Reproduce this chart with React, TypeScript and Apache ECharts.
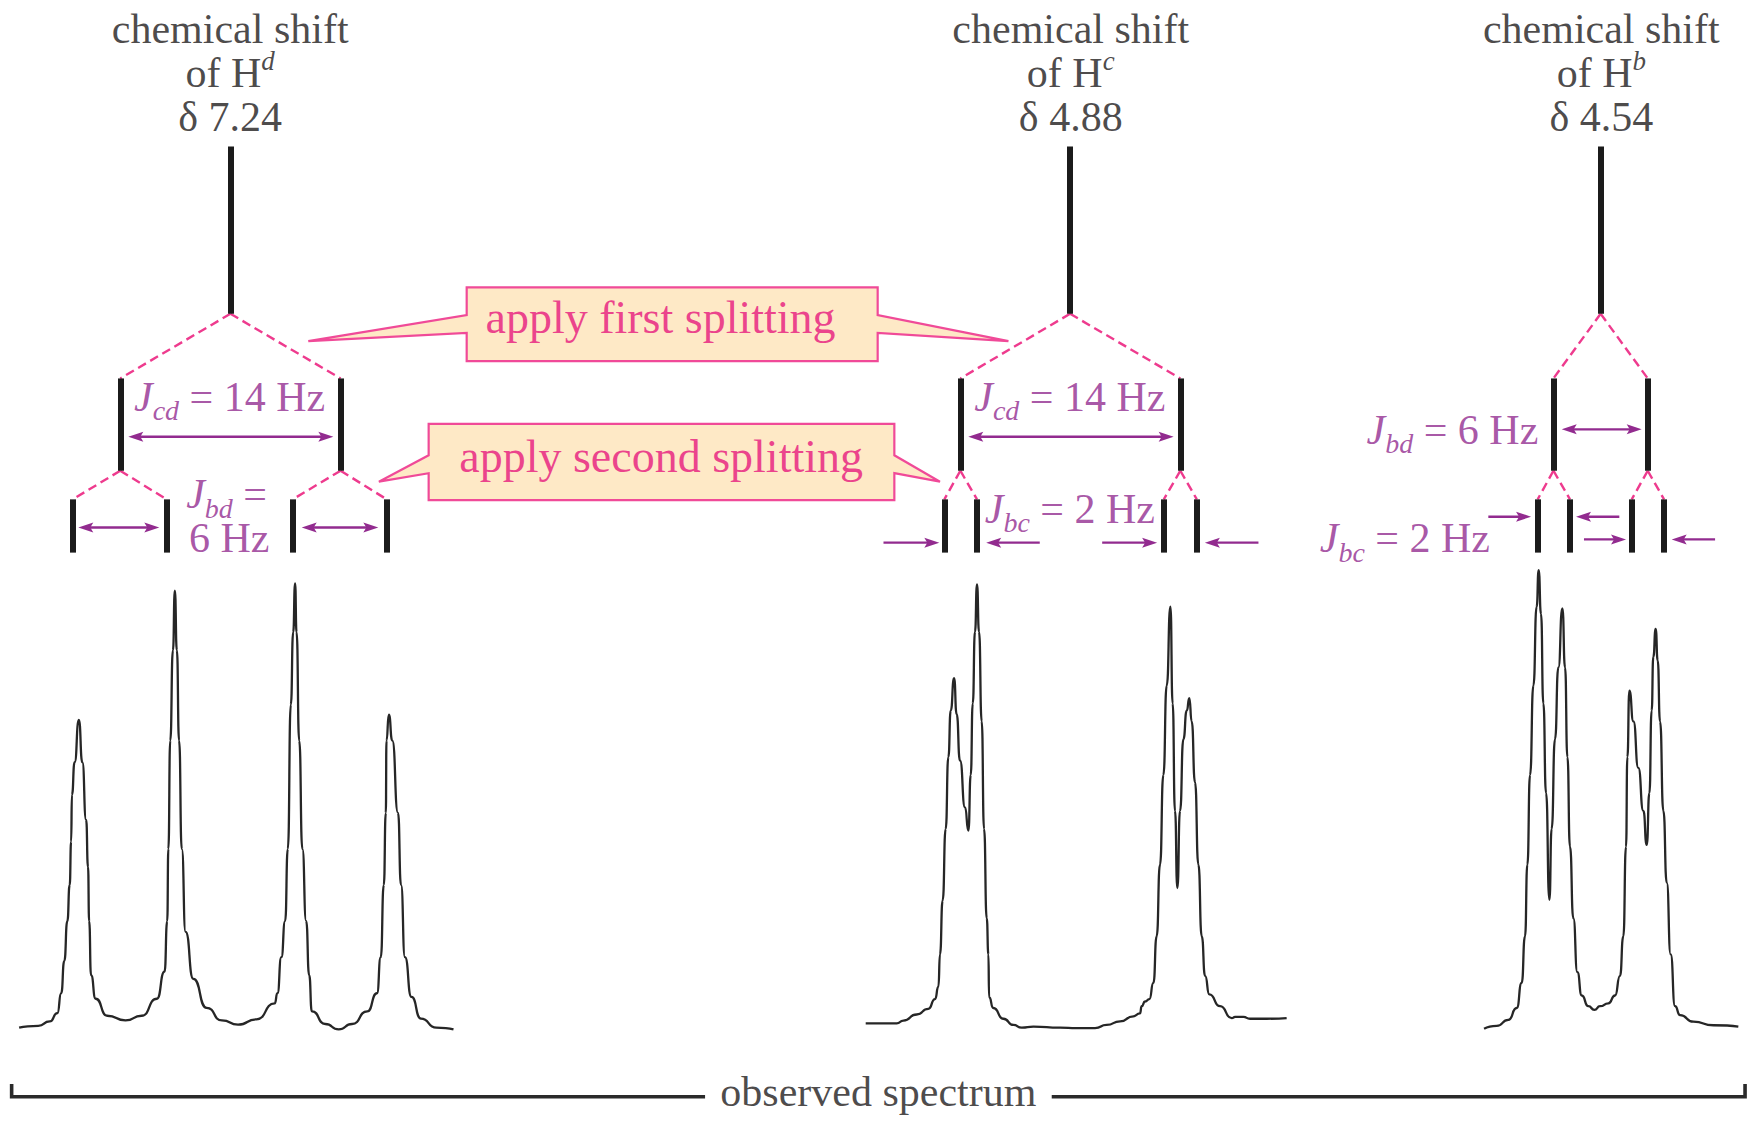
import React, { useEffect, useRef } from "react";
import * as echarts from "echarts";

// Diagram space: the reference drawing measured in 1568 x 1003 units (x right, y down).
const SPACE_W = 1568;
const SPACE_H = 1003;

// ---------- data ----------
const protons = ["d", "c", "b"];
const shifts = ["7.24", "4.88", "4.54"];

// stick positions of each splitting tree (x)
const singletX = [206.0, 956.6, 1430.9];
const doubletX = [
  [107.5, 304.5],
  [858.5, 1055.2],
  [1388.7, 1473.0],
];
const quartetX = [
  [65.0, 149.0, 261.6, 345.7],
  [844.2, 873.4, 1040.4, 1069.9],
  [1374.6, 1403.5, 1458.7, 1487.6],
];
// tree levels (y): [top, bottom]
const singletLevel = [131, 280.5];
const doubletLevel = [338.3, 420.8];
const quartetLevel = [446.4, 494];

// observed spectrum traces [x, y]
const traceHd = [
  [17.1, 918.6], [34.2, 917.0], [44.5, 913.1], [51.3, 905.7], [54.7, 887.9], [57.5, 858.9],
  [60.2, 823.4], [62.3, 791.1], [63.6, 752.4], [64.3, 710.4], [66.7, 681.4], [70.5, 643.6],
  [73.6, 681.4], [77.0, 733.0], [78.7, 775.0], [79.7, 823.4], [81.4, 871.8], [85.5, 892.8],
  [95.8, 908.0], [112.2, 912.2], [126.6, 908.0], [140.3, 892.8], [147.1, 868.6], [149.5, 823.4],
  [150.5, 758.8], [152.2, 662.0], [154.6, 581.3], [156.3, 528.0], [158.1, 581.3], [160.1, 662.0],
  [162.5, 758.8], [165.9, 833.1], [172.8, 875.0], [184.7, 900.9], [198.4, 912.2], [212.8, 916.0],
  [229.2, 911.2], [245.6, 897.0], [248.0, 887.9], [251.5, 855.7], [254.9, 823.4], [257.3, 758.8],
  [260.0, 629.7], [262.1, 565.2], [263.8, 521.6], [265.1, 565.2], [267.5, 662.0], [270.3, 758.8],
  [273.7, 823.4], [276.4, 871.8], [278.8, 904.1], [290.8, 915.4], [302.8, 920.2], [314.7, 915.4],
  [328.4, 904.1], [337.0, 887.9], [340.4, 855.7], [343.1, 791.1], [344.9, 726.6], [345.5, 662.0],
  [347.6, 638.8], [350.7, 662.0], [355.8, 726.6], [358.5, 791.1], [362.0, 855.7], [367.8, 891.2],
  [376.3, 910.5], [390.0, 918.6], [405.4, 920.2],
];
const traceHc = [
  [773.9, 914.9], [801.6, 914.9], [807.6, 912.3], [819.5, 906.9], [829.9, 901.8], [835.9, 893.1],
  [838.9, 881.9], [840.3, 853.1], [842.7, 805.0], [845.4, 740.9], [847.8, 676.8], [849.9, 635.2],
  [852.9, 606.3], [855.2, 638.4], [858.2, 680.0], [862.7, 721.7], [865.7, 742.5], [867.8, 692.8],
  [869.6, 628.8], [871.6, 564.7], [873.4, 522.4], [875.2, 564.7], [877.6, 644.8], [879.7, 740.9],
  [882.1, 821.0], [883.6, 853.1], [884.2, 891.5], [888.0, 901.1], [897.0, 910.7], [905.9, 916.2],
  [913.4, 918.7], [923.8, 917.8], [947.6, 918.7], [962.5, 919.1], [978.9, 919.1], [989.3, 916.2],
  [1001.3, 913.0], [1013.2, 908.5], [1019.1, 905.9], [1020.6, 899.5], [1023.6, 895.3], [1027.5, 893.1],
  [1031.1, 878.7], [1034.0, 837.0], [1037.0, 772.9], [1040.0, 692.8], [1043.0, 612.7], [1046.3, 542.3],
  [1048.3, 628.8], [1050.4, 724.9], [1052.5, 793.8], [1054.9, 724.9], [1057.9, 660.8], [1060.9, 635.2],
  [1063.2, 624.0], [1065.3, 644.8], [1068.3, 699.3], [1071.3, 772.9], [1074.3, 837.0], [1077.3, 872.3],
  [1081.1, 888.9], [1090.7, 899.5], [1101.1, 910.1], [1104.1, 909.1], [1111.5, 909.1], [1117.5, 910.7],
  [1132.4, 910.7], [1150.2, 910.1],
];
const traceHb = [
  [1326.7, 919.7], [1338.0, 917.1], [1348.4, 911.7], [1355.9, 901.1], [1360.3, 878.7], [1363.3, 837.0],
  [1365.4, 772.9], [1367.8, 692.8], [1370.8, 612.7], [1373.7, 542.3], [1375.5, 509.6], [1377.6, 548.7],
  [1379.7, 628.8], [1382.1, 708.9], [1385.1, 804.3], [1387.1, 740.9], [1390.1, 660.8], [1393.1, 596.7],
  [1396.7, 543.9], [1399.1, 596.7], [1401.2, 676.8], [1403.5, 756.9], [1406.5, 821.0], [1410.1, 869.1],
  [1414.0, 889.9], [1419.9, 899.5], [1425.3, 902.7], [1430.4, 899.5], [1437.8, 896.9], [1443.8, 889.9],
  [1448.2, 872.3], [1451.2, 837.0], [1453.6, 756.9], [1454.8, 676.8], [1456.6, 617.5], [1460.2, 644.8],
  [1464.6, 686.4], [1469.1, 724.9], [1472.1, 755.3], [1474.5, 708.9], [1476.5, 635.2], [1478.0, 587.1],
  [1480.1, 562.1], [1481.9, 590.3], [1484.0, 644.8], [1487.0, 724.9], [1490.0, 789.0], [1493.5, 853.1],
  [1497.4, 899.5], [1501.9, 907.5], [1513.8, 913.3], [1531.7, 916.5], [1554.0, 917.8],
];

// coupling arrows: [x1, y1, x2, y2, heads]  heads 1 = head at (x2,y2), 2 = both ends
const couplingArrows = [
  [114.7, 390.4, 298.0, 390.4, 2],
  [70.0, 471.5, 142.4, 471.5, 2],
  [269.7, 471.5, 338.2, 471.5, 2],
  [865.6, 390.4, 1049.2, 390.4, 2],
  [789.8, 485.1, 839.7, 485.1, 1],
  [929.5, 485.1, 881.6, 485.1, 1],
  [985.3, 485.1, 1034.4, 485.1, 1],
  [1125.0, 485.1, 1077.1, 485.1, 1],
  [1396.1, 383.8, 1467.6, 383.8, 2],
  [1330.5, 461.9, 1368.7, 461.9, 1],
  [1447.6, 461.9, 1408.9, 461.9, 1],
  [1416.0, 482.2, 1453.6, 482.2, 1],
  [1533.2, 482.2, 1494.4, 482.2, 1],
];

// callouts: [left, top, right, bottom, wedgeTop, wedgeBottom, leftTipX, leftTipY, rightTipX, rightTipY]
const callouts = [
  [417.2, 256.9, 784.6, 322.8, 281.6, 297.7, 275.6, 305.0, 901.5, 305.0],
  [383.2, 379.0, 799.5, 447.0, 407.0, 423.0, 338.7, 430.6, 840.3, 430.6],
];
const calloutTexts = ["apply first splitting", "apply second splitting"];

// coupling-constant labels
const jCentered = [
  "{j|J}{s|cd}{t| = 14 Hz}",
  "{j|J}{s|cd}{t| = 14 Hz}",
  "{j|J}{s|bd}{t| =}",
  "{t|6 Hz}",
  "{j|J}{s|bc}{t| = 2 Hz}",
];
const jRight = ["{j|J}{s|bd}{t| = 6 Hz}", "{j|J}{s|bc}{t| = 2 Hz}"];
const bottomLabel = "observed spectrum";

// bracket under the spectrum
const bracketLeft = [[10.4, 969], [10.4, 980.4], [630.3, 980.4]];
const bracketRight = [[940.2, 980.4], [1560, 980.4], [1560, 969]];

// ---------- layout (label anchors) ----------
const headerX = [205.8, 957.2, 1431.5];
const headerY = [25.5, 65.5, 104.5];
const calloutTextPos = [[590.5, 283.5], [591.0, 408.0]];
const jCenteredPos = [[205.3, 354.6], [956.4, 354.6], [202.6, 442.0], [204.9, 481.0], [956.4, 455.0]];
const jRightPos = [[1375.2, 384.0], [1332.0, 481.0]];
const bottomLabelPos = [785.2, 976.0];

// ---------- styles ----------
const FONT = "'Liberation Serif', 'Times New Roman', Times, serif";
const BLACK = "#1d1a1b";
const STICK = "#1b1b1b";
const PINK = "#ee3b8e";
const BORDER = "#f04a98";
const PEACH = "#fee9c6";
const MAGENTA = "#e6177d";
const PURPLE = "#922b8f";

function buildSticks() {
  const out: any[] = [];
  singletX.forEach((x) => out.push({ coords: [[x, singletLevel[0]], [x, singletLevel[1]]] }));
  doubletX.forEach((g) => g.forEach((x) => out.push({ coords: [[x, doubletLevel[0]], [x, doubletLevel[1]]] })));
  quartetX.forEach((g) => g.forEach((x) => out.push({ coords: [[x, quartetLevel[0]], [x, quartetLevel[1]]] })));
  return out;
}

function buildDashes() {
  const out: any[] = [];
  singletX.forEach((sx, i) => {
    doubletX[i].forEach((dx, j) => {
      out.push({ coords: [[sx, singletLevel[1]], [dx, doubletLevel[0]]] });
      const q = quartetX[i].slice(j * 2, j * 2 + 2);
      q.forEach((qx) => out.push({ coords: [[dx, doubletLevel[1]], [qx, quartetLevel[0]]] }));
    });
  });
  return out;
}

function arrowRender(params: any, api: any) {
  const p1 = api.coord([api.value(0), api.value(1)]);
  const p2 = api.coord([api.value(2), api.value(3)]);
  const both = api.value(4) === 2;
  const dx = p2[0] - p1[0];
  const dy = p2[1] - p1[1];
  const len = Math.hypot(dx, dy) || 1;
  const ux = dx / len;
  const uy = dy / len;
  const L = 15;
  const Wd = 5;
  const head = (tip: number[], vx: number, vy: number) => {
    const bx = tip[0] - vx * L;
    const by = tip[1] - vy * L;
    const nx = -vy;
    const ny = vx;
    const cx = tip[0] - vx * L * 0.8;
    const cy = tip[1] - vy * L * 0.8;
    return {
      type: "polygon",
      shape: { points: [tip, [bx + nx * Wd, by + ny * Wd], [cx, cy], [bx - nx * Wd, by - ny * Wd]] },
      style: { fill: PURPLE },
    };
  };
  const s = both ? [p1[0] + ux * L * 0.7, p1[1] + uy * L * 0.7] : p1;
  const e = [p2[0] - ux * L * 0.7, p2[1] - uy * L * 0.7];
  const children: any[] = [
    { type: "line", shape: { x1: s[0], y1: s[1], x2: e[0], y2: e[1] }, style: { stroke: PURPLE, lineWidth: 2.4 } },
    head(p2, ux, uy),
  ];
  if (both) children.push(head(p1, -ux, -uy));
  return { type: "group", children };
}

function calloutRender(params: any, api: any) {
  const v = (i: number) => api.value(i);
  const P = (x: number, y: number) => api.coord([x, y]);
  const l = v(0), t = v(1), r = v(2), b = v(3), wt = v(4), wb = v(5);
  const pts = [
    P(l, t), P(r, t), P(r, wt), P(v(8), v(9)), P(r, wb), P(r, b),
    P(l, b), P(l, wb), P(v(6), v(7)), P(l, wt),
  ];
  return {
    type: "polygon",
    shape: { points: pts },
    style: { fill: PEACH, stroke: BORDER, lineWidth: 2.2, lineJoin: "miter" },
  };
}

// subscript: bottom-aligned token with a small box height -> lowered by (38/2 - 10/2) px
const jRich = {
  j: { fontSize: 42, fontStyle: "italic", fontFamily: FONT, color: PURPLE, lineHeight: 38 },
  s: { fontSize: 28, fontStyle: "italic", fontFamily: FONT, color: PURPLE, height: 10, lineHeight: 10, verticalAlign: "bottom" },
  t: { fontSize: 42, fontFamily: FONT, color: PURPLE, lineHeight: 38 },
};

function textSeries(data: any[], label: any) {
  return {
    type: "scatter",
    symbol: "circle",
    symbolSize: 0,
    silent: true,
    emphasis: { disabled: true },
    itemStyle: { color: "transparent" },
    label: { show: true, ...label },
    data,
    z: 10,
  };
}

function traceSeries(data: number[][]) {
  return {
    type: "line",
    data,
    symbol: "none",
    smooth: 0.6,
    smoothMonotone: "x",
    silent: true,
    lineStyle: { color: "#262626", width: 2.3 },
    z: 3,
  };
}

export default function App() {
  const ref = useRef<HTMLDivElement>(null);
  useEffect(() => {
    if (!ref.current) return;
    const chart = echarts.init(ref.current, undefined, { renderer: "svg" });

    const headerData: any[] = [];
    headerX.forEach((x, i) => {
      headerData.push({ value: [x, headerY[0]], label: { formatter: "chemical shift" } });
      headerData.push({ value: [x, headerY[1]], label: { formatter: `{n|of H}{sup|${protons[i]}}` } });
      headerData.push({ value: [x, headerY[2]], label: { formatter: `δ ${shifts[i]}` } });
    });

    const option: any = {
      animation: false,
      backgroundColor: "#ffffff",
      grid: { left: 0, right: 0, top: 0, bottom: 0 },
      xAxis: { type: "value", min: 0, max: SPACE_W, show: false },
      yAxis: { type: "value", min: 0, max: SPACE_H, inverse: true, show: false },
      series: [
        traceSeries(traceHd),
        traceSeries(traceHc),
        traceSeries(traceHb),
        {
          type: "lines",
          coordinateSystem: "cartesian2d",
          silent: true,
          polyline: true,
          data: [{ coords: bracketLeft }, { coords: bracketRight }],
          lineStyle: { color: "#2a2a2a", width: 3.6, join: "miter", opacity: 1 },
          z: 3,
        },
        {
          type: "lines",
          coordinateSystem: "cartesian2d",
          silent: true,
          data: buildDashes(),
          lineStyle: { color: PINK, width: 2.4, type: [9, 5], opacity: 1 },
          z: 4,
        },
        {
          type: "lines",
          coordinateSystem: "cartesian2d",
          silent: true,
          data: buildSticks(),
          lineStyle: { color: STICK, width: 6, cap: "butt", opacity: 1 },
          z: 5,
        },
        {
          type: "custom",
          silent: true,
          renderItem: calloutRender,
          encode: { x: [0, 2], y: [1, 3] },
          data: callouts,
          z: 6,
        },
        {
          type: "custom",
          silent: true,
          renderItem: arrowRender,
          encode: { x: [0, 2], y: [1, 3] },
          data: couplingArrows,
          z: 7,
        },
        textSeries(headerData, {
          position: "inside",
          fontSize: 42,
          fontFamily: FONT,
          color: BLACK,
          lineHeight: 40,
          rich: {
            n: { fontSize: 42, fontFamily: FONT, color: BLACK, lineHeight: 40 },
            sup: { fontSize: 27, fontStyle: "italic", fontFamily: FONT, color: BLACK, height: 16, lineHeight: 16, verticalAlign: "top" },
          },
        }),
        textSeries(
          calloutTexts.map((t, i) => ({ value: calloutTextPos[i], label: { formatter: t } })),
          { position: "inside", fontSize: 46, fontFamily: FONT, color: MAGENTA }
        ),
        textSeries(
          jCentered.map((t, i) => ({ value: jCenteredPos[i], label: { formatter: t } })),
          { position: "inside", fontSize: 42, fontFamily: FONT, color: PURPLE, lineHeight: 38, rich: jRich }
        ),
        textSeries(
          jRight.map((t, i) => ({ value: jRightPos[i], label: { formatter: t } })),
          { position: "left", distance: 0, fontSize: 42, fontFamily: FONT, color: PURPLE, lineHeight: 38, rich: jRich }
        ),
        textSeries([{ value: bottomLabelPos, label: { formatter: bottomLabel } }], {
          position: "inside",
          fontSize: 42,
          fontFamily: FONT,
          color: BLACK,
        }),
      ],
    };
    chart.setOption(option);
    return () => chart.dispose();
  }, []);

  return (
    <div
      ref={ref}
      style={{ position: "absolute", left: 0, top: 0, width: 1754, height: 1122, background: "#ffffff" }}
    />
  );
}
